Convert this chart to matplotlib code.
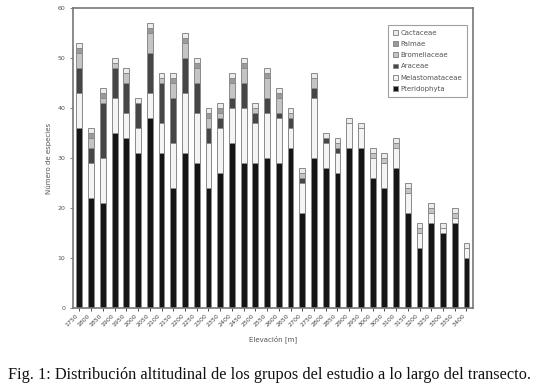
import numpy as np
import matplotlib
matplotlib.use("Agg")
import matplotlib.pyplot as plt

# elevation steps along the transect (labels guessed, illegible in source)
elev = [str(1750 + 50 * i) for i in range(34)]

# species counts per group, bottom to top of each stack
pter = [36, 22, 21, 35, 34, 31, 38, 31, 24, 31, 29, 24, 27, 33, 29, 29, 30,
        29, 32, 19, 30, 28, 27, 32, 32, 26, 24, 28, 19, 12, 17, 15, 17, 10]
melas = [7, 7, 9, 7, 5, 5, 5, 6, 9, 12, 10, 9, 9, 7, 11, 8, 9,
         9, 4, 6, 12, 5, 4, 5, 4, 4, 5, 4, 4, 3, 2, 1, 1, 2]
arac = [5, 3, 11, 6, 6, 5, 8, 8, 9, 7, 6, 3, 2, 2, 5, 2, 3,
        1, 2, 1, 2, 1, 1, 0, 0, 0, 0, 0, 0, 0, 0, 0, 0, 0]
brom = [3, 2, 1, 1, 2, 0, 4, 1, 3, 3, 3, 2, 1, 3, 3, 1, 4,
        3, 1, 1, 2, 0, 1, 0, 0, 1, 1, 1, 1, 1, 1, 0, 1, 0]
palm = [1, 1, 1, 0, 0, 0, 1, 0, 1, 1, 1, 1, 1, 1, 1, 0, 1,
        1, 0, 0, 0, 0, 0, 0, 0, 0, 0, 0, 0, 0, 0, 0, 0, 0]
cact = [1] * 34

groups = ["Pteridophyta", "Melastomataceae", "Araceae",
          "Bromeliaceae", "Palmae", "Cactaceae"]
series = [pter, melas, arac, brom, palm, cact]
colors = ["#151515", "#f4f4f4", "#464646", "#c4c4c4", "#9a9a9a", "#ececec"]

fig = plt.figure(figsize=(5.39, 3.91), dpi=100)
ax = fig.add_axes([0.1354, 0.2115, 0.742, 0.768])

x = np.arange(len(elev))
bottom = np.zeros(len(elev))
handles = []
for name, vals, c in zip(groups, series, colors):
    vals = np.array(vals, dtype=float)
    b = ax.bar(x, vals, 0.5, bottom=bottom, color=c, edgecolor="#8a8a8a",
               linewidth=0.7, label=name)
    handles.append(b)
    bottom += vals

ax.set_xlim(-0.55, len(elev) - 0.45)
ax.set_ylim(0, 60)
ax.set_yticks(range(0, 61, 10))
ax.set_xticks(x)
ax.set_xticklabels(elev, rotation=45, ha="right", fontsize=4.5, color="#444444")
ax.tick_params(axis="y", labelsize=4.5, colors="#555555", length=2, width=0.5)
ax.tick_params(axis="x", length=2, width=0.5, pad=1.5)
for s in ax.spines.values():
    s.set_color("#777777")
    s.set_linewidth(1.2)

ax.set_xlabel("Elevación [m]", fontsize=5, color="#555555", labelpad=5)
ax.set_ylabel("Número de especies", fontsize=5, color="#555555", labelpad=4)

leg = ax.legend(handles[::-1], groups[::-1], loc="upper right",
                bbox_to_anchor=(0.995, 0.955), fontsize=5, fancybox=False,
                handlelength=0.7, handleheight=0.7, handletextpad=0.4,
                labelspacing=0.75, borderpad=0.7, edgecolor="#888888",
                labelcolor="#555555")
leg.get_frame().set_linewidth(0.8)

fig.text(0.015, 0.03,
         "Fig. 1: Distribución altitudinal de los grupos del estudio a lo largo del transecto.",
         fontsize=11.7, family="Liberation Serif", color="#111111")

fig.savefig("out.png", dpi=100)
